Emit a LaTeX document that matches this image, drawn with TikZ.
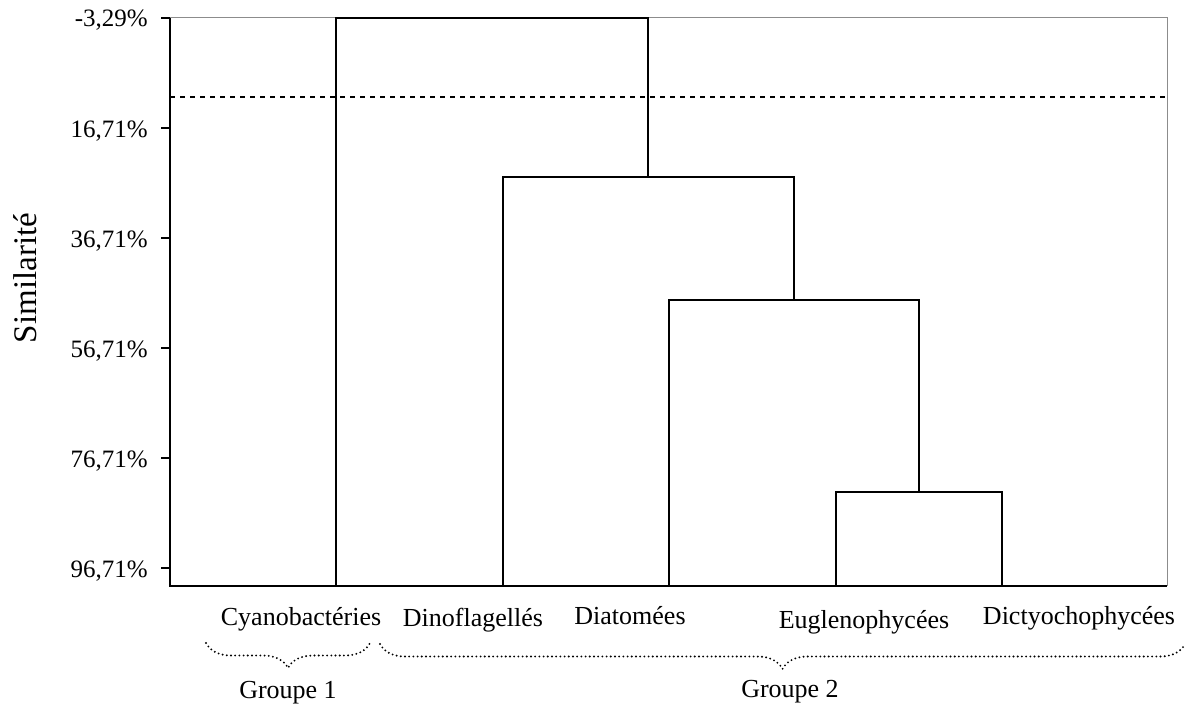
\documentclass[tikz,border=0pt]{standalone}
\usepackage{fontspec}
\setmainfont{Liberation Serif}
\usetikzlibrary{decorations.pathreplacing}
\begin{document}
\begin{tikzpicture}[x=1pt,y=-1pt,
  dend/.style={line width=1.8pt,black},
  axisline/.style={line width=1.4pt,black},
  frameline/.style={line width=1pt,black!45},
  ticklbl/.style={anchor=base east,inner sep=0pt,font=\fontsize{25}{30}\selectfont},
  leaflbl/.style={anchor=base,inner sep=0pt,font=\fontsize{26}{30}\selectfont},
  grplbl/.style={anchor=base,inner sep=0pt,font=\fontsize{26}{30}\selectfont},
  dotbrace/.style={decorate,decoration={brace,amplitude=25pt,mirror},line width=2.1pt,line cap=round,dash pattern=on 0pt off 4.2pt},
  cutline/.style={line width=2pt,dash pattern=on 5pt off 5pt}]
\useasboundingbox (0,0) rectangle (1188,709);
% frame corners
\coordinate (TL) at (170,18);
\coordinate (TR) at (1167,18);
\coordinate (BL) at (170,586);
\coordinate (BR) at (1167,586);
\draw[frameline] (TL) -- (TR) -- (BR);
% cut line
\coordinate (cutL) at (170,97);
\coordinate (cutR) at (1167,97);
\draw[cutline] (cutL) -- (cutR);
% axes
\draw[axisline] (TL) -- (BL) -- (BR);
% ticks and labels
\foreach \y/\t in {18/{-3,29\%},128/{16,71\%},238/{36,71\%},348/{56,71\%},458/{76,71\%},568/{96,71\%}}{
  \coordinate (tk\y) at (170,\y);
  \draw[axisline] (tk\y) -- ++(-9,0);
  \node[ticklbl] (tl\y) at (148,\y+9) {\t};
}
% axis title
\node[rotate=90,anchor=base,inner sep=0pt,font=\fontsize{33}{36}\selectfont] (ytitle) at (36,278) {Similarité};
% leaves
\coordinate (L1) at (336,586);
\coordinate (L2) at (503,586);
\coordinate (L3) at (669,586);
\coordinate (L4) at (836,586);
\coordinate (L5) at (1002,586);
% merges
\coordinate (A) at (919,492);
\coordinate (B) at (794,300);
\coordinate (C) at (648,177);
\coordinate (D) at (492,18);
\draw[dend] (L4) |- (A) -| (L5);
\draw[dend] (L3) |- (B) -| (A);
\draw[dend] (L2) |- (C) -| (B);
\draw[dend] (L1) |- (D) -| (C);
% leaf labels
\node[leaflbl] (n1) at (301,625) {Cyanobactéries};
\node[leaflbl] (n2) at (473,626) {Dinoflagellés};
\node[leaflbl] (n3) at (630,624) {Diatomées};
\node[leaflbl] (n4) at (864,628) {Euglenophycées};
\node[leaflbl] (n5) at (1079,624) {Dictyochophycées};
% braces
\coordinate (g1a) at (206,643);
\coordinate (g1b) at (370,643);
\coordinate (g2a) at (380,644);
\coordinate (g2b) at (1185,644);
\draw[dotbrace] (g1a) -- (g1b);
\draw[dotbrace] (g2a) -- (g2b);
\node[grplbl] (G1) at (288,698) {Groupe 1};
\node[grplbl] (G2) at (790,697) {Groupe 2};
\end{tikzpicture}
\end{document}
